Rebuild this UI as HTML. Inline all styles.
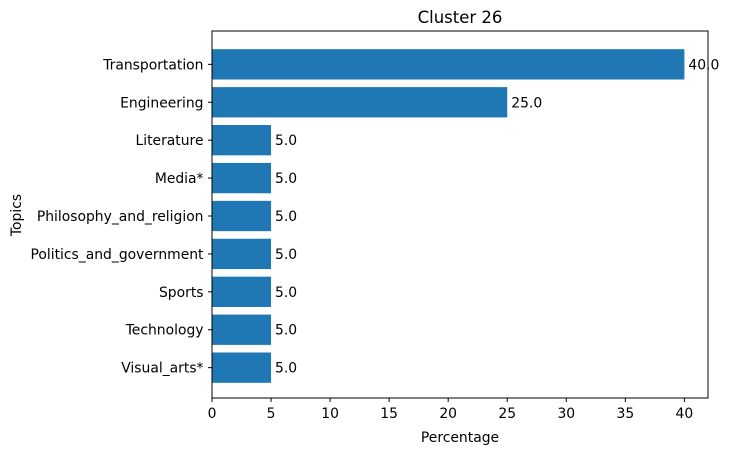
<!DOCTYPE html>
<html><head><meta charset="utf-8"><style>
body{margin:0;background:#fff;}
svg{display:block;font-family:"DejaVu Sans","Liberation Sans",sans-serif;}
</style></head><body>
<svg id="chart" width="729" height="455">
<text x="460" y="23" text-anchor="middle" font-size="16.5">Cluster 26</text>
<text x="460" y="442" text-anchor="middle" font-size="13.9">Percentage</text>
<text transform="translate(21,215) rotate(-90)" text-anchor="middle" font-size="13.9">Topics</text>
<g id="marks"></g>
<rect x="212" y="31" width="496" height="367" fill="none" stroke="#000" stroke-width="1"/>
</svg>
<script>
const categories=["Transportation","Engineering","Literature","Media*","Philosophy_and_religion","Politics_and_government","Sports","Technology","Visual_arts*"];
const values=[40,25,5,5,5,5,5,5,5];
const xTicks=[0,5,10,15,20,25,30,35,40];
const L=212,R=708,T=32.5,B=399.5,xMax=42;
const n=categories.length;
const span=(n-1)+0.8, pad=span*0.05;
const yUnit=(B-T)/(span+2*pad);
const xs=v=>L+v/xMax*(R-L);
const ys=i=>T+(pad+0.4+i)*yUnit;
const g=document.getElementById('marks');
const NS="http://www.w3.org/2000/svg";
function mk(t,a){const e=document.createElementNS(NS,t);for(const k in a)e.setAttribute(k,a[k]);g.appendChild(e);return e;}
categories.forEach((c,i)=>{
  const cy=ys(i),h=0.8*yUnit;
  const r=mk('rect',{x:L,y:cy-h/2,width:xs(values[i])-L,height:h,fill:'#1f77b4'});
  
  
  const lb=mk('text',{x:xs(values[i])+4,y:cy+5,'font-size':13.9});
  lb.textContent=values[i].toFixed(1);
  
  
  const tk=mk('line',{x1:L-4,x2:L,y1:cy,y2:cy,stroke:'#000'});
  
  
  const tl=mk('text',{x:L-8.5,y:cy+5,'font-size':13.9,'text-anchor':'end'});
  tl.textContent=c;
  
  
});
xTicks.forEach(v=>{
  const x=xs(v);
  const tk=mk('line',{x1:x,x2:x,y1:398,y2:402,stroke:'#000'});
  
  
  const tl=mk('text',{x:x,y:418,'font-size':13.9,'text-anchor':'middle'});
  tl.textContent=v;
  
  
});
</script>
</body></html>
